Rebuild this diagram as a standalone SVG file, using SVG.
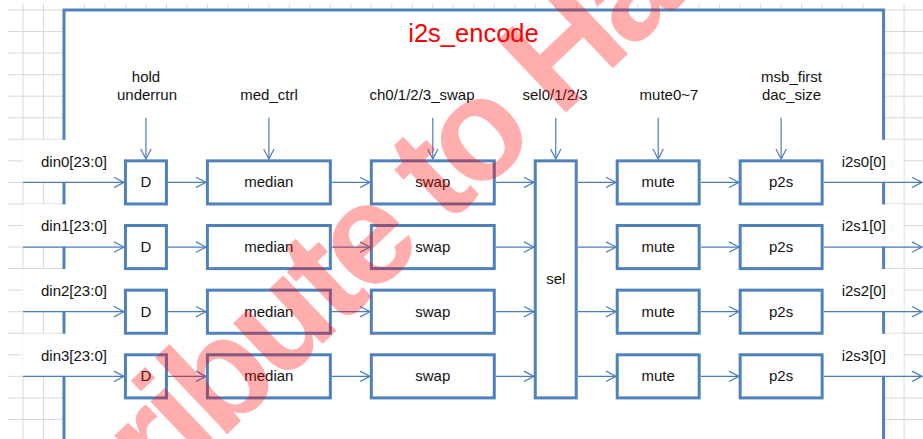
<svg xmlns="http://www.w3.org/2000/svg" width="923" height="439" viewBox="0 0 923 439">
<defs>
<style>
.grid{stroke:#d9d9d9;stroke-width:1;fill:none}
.cover{fill:#ffffff;stroke:none}
.frame{fill:#ffffff;stroke:#4f81bd;stroke-width:3}
.box{fill:#ffffff;stroke:#4f81bd;stroke-width:3}
.conn{stroke:#4a7ebb;stroke-width:1.2;fill:none;marker-end:url(#arr)}
.t{font-family:"Liberation Sans",Arial,sans-serif;font-size:15px;fill:#111}
.c{text-anchor:middle}
.title{font-family:"Liberation Sans",Arial,sans-serif;font-size:25.5px;fill:#ff0000;text-anchor:middle}
.wm{font-family:"Liberation Sans",Arial,sans-serif;font-weight:bold;font-size:145px;letter-spacing:-7px;fill:#ff0000;fill-opacity:0.32}
</style>
<marker id="arr" markerUnits="userSpaceOnUse" markerWidth="12" markerHeight="12" viewBox="0 0 12 12" refX="11" refY="6" orient="auto">
<path d="M1,0.8 L11,6 L1,11.2" fill="none" stroke="#4a7ebb" stroke-width="1.2"/>
</marker>
</defs>
<rect width="923" height="439" fill="#ffffff"/>
<g id="grid">
<path class="grid" d="M8,10H64M8,31.55H64M8,53.1H64M8,74.65H64M8,96.2H64M8,117.75H64M8,139.3H64M8,160.85H64M8,182.4H64M8,203.95H64M8,225.5H64M8,247.05H64M8,268.6H64M8,290.15H64M8,311.7H64M8,333.25H64M8,354.8H64M8,376.35H64M8,397.9H64M8,419.45H64
M883.6,10H923M883.6,31.55H923M883.6,53.1H923M883.6,74.65H923M883.6,96.2H923M883.6,117.75H923M883.6,139.3H923M883.6,160.85H923M883.6,182.4H923M883.6,203.95H923M883.6,225.5H923M883.6,247.05H923M883.6,268.6H923M883.6,290.15H923M883.6,311.7H923M883.6,333.25H923M883.6,354.8H923M883.6,376.35H923M883.6,397.9H923M883.6,419.45H923
M23,4V439M43.49,4V439M904.07,4V439
M84.47,4V9M104.96,4V9M125.45,4V9M145.94,4V9M166.43,4V9M186.92,4V9M207.41,4V9M227.9,4V9M248.39,4V9M268.88,4V9M289.37,4V9M309.86,4V9M330.35,4V9M350.84,4V9M371.33,4V9M391.82,4V9M412.31,4V9M432.8,4V9M453.29,4V9M473.78,4V9M494.27,4V9M514.76,4V9M535.25,4V9M555.74,4V9M576.23,4V9M596.72,4V9M617.21,4V9M637.7,4V9M658.19,4V9M678.68,4V9M699.17,4V9M719.66,4V9M740.15,4V9M760.64,4V9M781.13,4V9M801.62,4V9M822.11,4V9M842.6,4V9M863.09,4V9"/>
</g>
<g id="i2s_encode">
<rect class="frame" x="63.98" y="10" width="819.6" height="460"/>
<text class="title" x="473.5" y="41.7">i2s_encode</text>
</g>
<g id="label-covers">
<rect class="cover" x="22.5" y="139.8" width="100" height="42.1"/>
<rect class="cover" x="22.5" y="204.45" width="100" height="42.1"/>
<rect class="cover" x="22.5" y="269.1" width="100" height="42.1"/>
<rect class="cover" x="22.5" y="333.75" width="100" height="42.1"/>
<rect class="cover" x="828" y="139.8" width="75.5" height="42.1"/>
<rect class="cover" x="828" y="204.45" width="75.5" height="42.1"/>
<rect class="cover" x="828" y="269.1" width="75.5" height="42.1"/>
<rect class="cover" x="828" y="333.75" width="75.5" height="42.1"/>
</g>
<g id="control-labels">
<text class="t c" x="146" y="82">hold</text>
<text class="t c" x="147" y="100">underrun</text>
<text class="t c" x="269" y="100">med_ctrl</text>
<text class="t c" x="422" y="100">ch0/1/2/3_swap</text>
<text class="t c" x="555" y="100">sel0/1/2/3</text>
<text class="t c" x="669" y="100">mute0~7</text>
<text class="t c" x="791.5" y="82">msb_first</text>
<text class="t c" x="791.5" y="100">dac_size</text>
</g>
<g id="port-labels">
<text class="t" x="41" y="166.7">din0[23:0]</text>
<text class="t" x="41" y="231.35">din1[23:0]</text>
<text class="t" x="41" y="296">din2[23:0]</text>
<text class="t" x="41" y="360.65">din3[23:0]</text>
<text class="t" x="841.7" y="166.7">i2s0[0]</text>
<text class="t" x="841.7" y="231.35">i2s1[0]</text>
<text class="t" x="841.7" y="296">i2s2[0]</text>
<text class="t" x="841.7" y="360.65">i2s3[0]</text>
</g>
<g id="D0"><rect class="box" x="125.45" y="160.85" width="40.98" height="43.1"/><text class="t c" x="145.94" y="187.4">D</text></g>
<g id="D1"><rect class="box" x="125.45" y="225.5" width="40.98" height="43.1"/><text class="t c" x="145.94" y="252.05">D</text></g>
<g id="D2"><rect class="box" x="125.45" y="290.15" width="40.98" height="43.1"/><text class="t c" x="145.94" y="316.7">D</text></g>
<g id="D3"><rect class="box" x="125.45" y="354.8" width="40.98" height="43.1"/><text class="t c" x="145.94" y="381.35">D</text></g>
<g id="median0"><rect class="box" x="207.41" y="160.85" width="122.94" height="43.1"/><text class="t c" x="268.88" y="187.4">median</text></g>
<g id="median1"><rect class="box" x="207.41" y="225.5" width="122.94" height="43.1"/><text class="t c" x="268.88" y="252.05">median</text></g>
<g id="median2"><rect class="box" x="207.41" y="290.15" width="122.94" height="43.1"/><text class="t c" x="268.88" y="316.7">median</text></g>
<g id="median3"><rect class="box" x="207.41" y="354.8" width="122.94" height="43.1"/><text class="t c" x="268.88" y="381.35">median</text></g>
<g id="swap0"><rect class="box" x="371.33" y="160.85" width="122.94" height="43.1"/><text class="t c" x="432.8" y="187.4">swap</text></g>
<g id="swap1"><rect class="box" x="371.33" y="225.5" width="122.94" height="43.1"/><text class="t c" x="432.8" y="252.05">swap</text></g>
<g id="swap2"><rect class="box" x="371.33" y="290.15" width="122.94" height="43.1"/><text class="t c" x="432.8" y="316.7">swap</text></g>
<g id="swap3"><rect class="box" x="371.33" y="354.8" width="122.94" height="43.1"/><text class="t c" x="432.8" y="381.35">swap</text></g>
<g id="sel"><rect class="box" x="535.25" y="160.85" width="40.98" height="237.05"/><text class="t c" x="555.74" y="283.5">sel</text></g>
<g id="mute0"><rect class="box" x="617.21" y="160.85" width="81.96" height="43.1"/><text class="t c" x="658.19" y="187.4">mute</text></g>
<g id="mute1"><rect class="box" x="617.21" y="225.5" width="81.96" height="43.1"/><text class="t c" x="658.19" y="252.05">mute</text></g>
<g id="mute2"><rect class="box" x="617.21" y="290.15" width="81.96" height="43.1"/><text class="t c" x="658.19" y="316.7">mute</text></g>
<g id="mute3"><rect class="box" x="617.21" y="354.8" width="81.96" height="43.1"/><text class="t c" x="658.19" y="381.35">mute</text></g>
<g id="p2s0"><rect class="box" x="740.15" y="160.85" width="81.96" height="43.1"/><text class="t c" x="781.13" y="187.4">p2s</text></g>
<g id="p2s1"><rect class="box" x="740.15" y="225.5" width="81.96" height="43.1"/><text class="t c" x="781.13" y="252.05">p2s</text></g>
<g id="p2s2"><rect class="box" x="740.15" y="290.15" width="81.96" height="43.1"/><text class="t c" x="781.13" y="316.7">p2s</text></g>
<g id="p2s3"><rect class="box" x="740.15" y="354.8" width="81.96" height="43.1"/><text class="t c" x="781.13" y="381.35">p2s</text></g>
<g id="connectors">
<path class="conn" d="M145.94,117.75V159"/>
<path class="conn" d="M268.88,117.75V159"/>
<path class="conn" d="M432.8,117.75V159"/>
<path class="conn" d="M555.74,117.75V159"/>
<path class="conn" d="M658.19,117.75V159"/>
<path class="conn" d="M781.13,117.75V159"/>
<path class="conn" d="M23,182.4H124"/>
<path class="conn" d="M23,247.05H124"/>
<path class="conn" d="M23,311.7H124"/>
<path class="conn" d="M23,376.35H124"/>
<path class="conn" d="M168,182.4H206"/>
<path class="conn" d="M168,247.05H206"/>
<path class="conn" d="M168,311.7H206"/>
<path class="conn" d="M168,376.35H206"/>
<path class="conn" d="M332,182.4H370"/>
<path class="conn" d="M332,247.05H370"/>
<path class="conn" d="M332,311.7H370"/>
<path class="conn" d="M332,376.35H370"/>
<path class="conn" d="M496,182.4H534"/>
<path class="conn" d="M496,247.05H534"/>
<path class="conn" d="M496,311.7H534"/>
<path class="conn" d="M496,376.35H534"/>
<path class="conn" d="M578,182.4H616"/>
<path class="conn" d="M578,247.05H616"/>
<path class="conn" d="M578,311.7H616"/>
<path class="conn" d="M578,376.35H616"/>
<path class="conn" d="M701,182.4H739"/>
<path class="conn" d="M701,247.05H739"/>
<path class="conn" d="M701,311.7H739"/>
<path class="conn" d="M701,376.35H739"/>
<path class="conn" d="M824,182.4H922"/>
<path class="conn" d="M824,247.05H922"/>
<path class="conn" d="M824,311.7H922"/>
<path class="conn" d="M824,376.35H922"/>
</g>
<g id="watermark">
<text class="wm" transform="translate(160,498) rotate(-43.5)">ribute to Ha</text>
</g>
</svg>
